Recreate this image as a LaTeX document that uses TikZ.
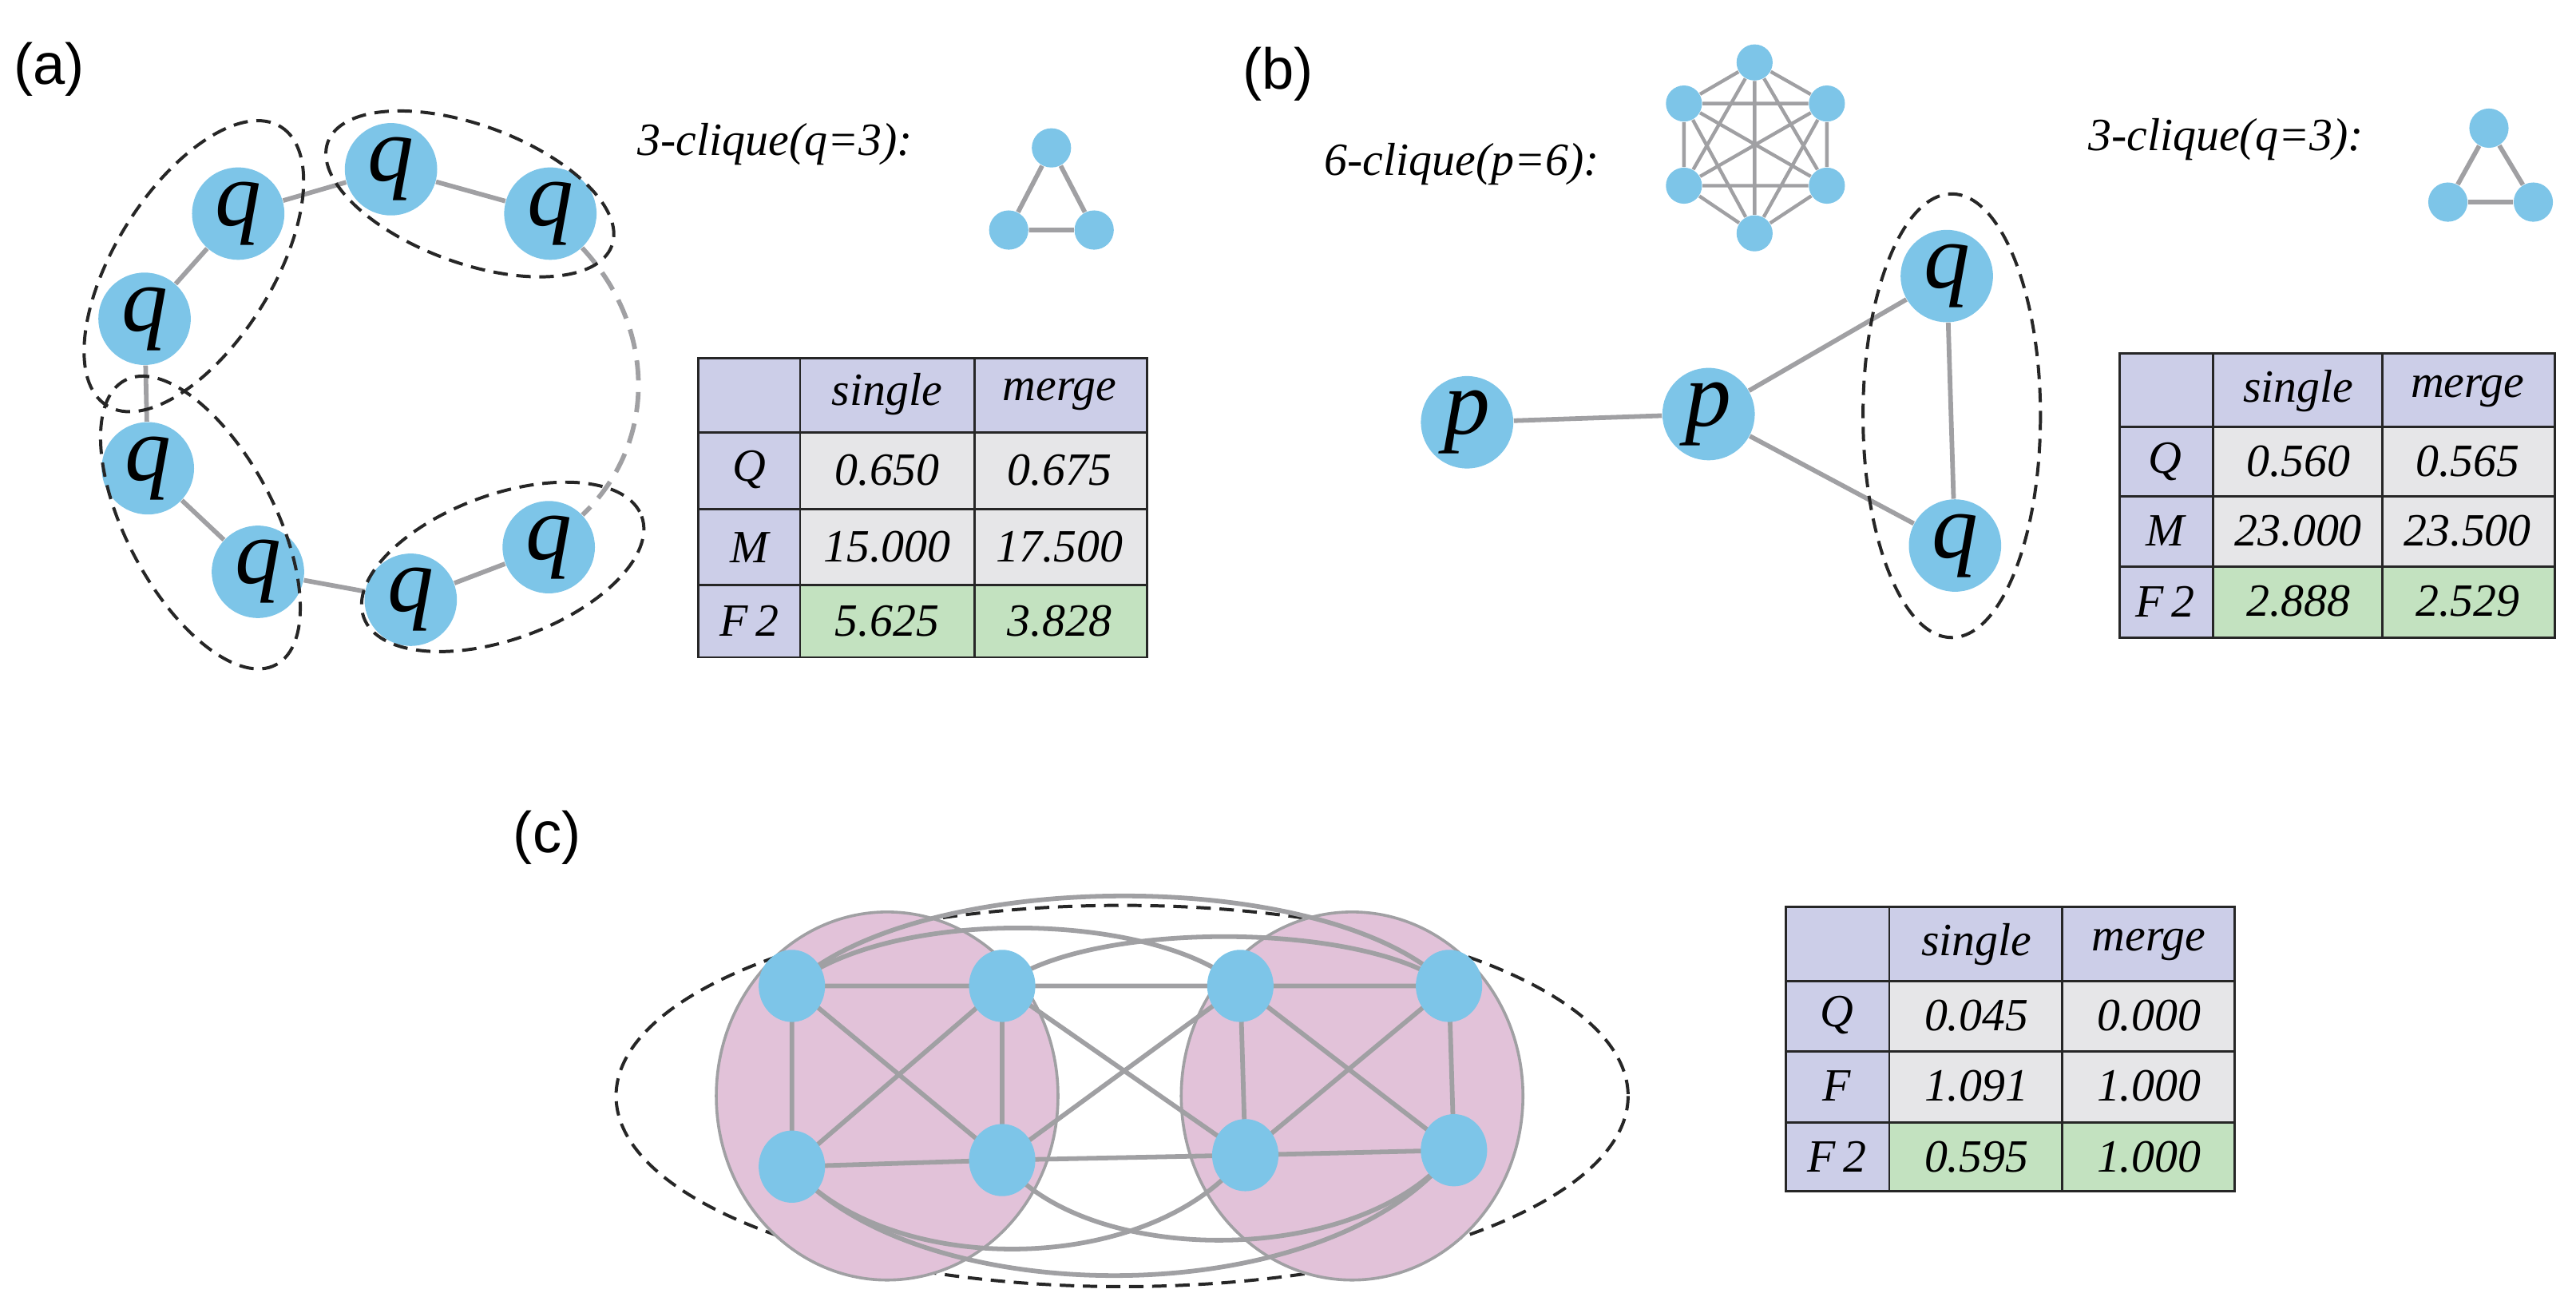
\documentclass[tikz,border=0pt]{standalone}
\usepackage{fontspec}
\usetikzlibrary{shapes.geometric}
\setmainfont{Liberation Serif}
\newfontfamily\lab{Liberation Sans}
\begin{document}
\begin{tikzpicture}[x=0.02cm,y=-0.02cm,
 bn/.style={circle,fill=blueN,minimum size=32pt,inner sep=0,font=\fontsize{32}{32}\selectfont\itshape},
 sn/.style={circle,fill=blueN,minimum size=13.6pt,inner sep=0},
 cn/.style={ellipse,fill=blueN,minimum width=23pt,minimum height=25pt,inner sep=0},
 ed/.style={draw=grayE,line width=1.6pt},
 grp/.style={draw=black!85,line width=1.1pt,dash pattern=on 5pt off 3pt},
 cell/.style={draw=black!85,line width=0.8pt},
 tt/.style={font=\fontsize{16}{16}\selectfont\itshape},
 lt/.style={font=\lab\fontsize{20}{20}\selectfont}]
\definecolor{blueN}{RGB}{125,197,232}
\definecolor{grayE}{RGB}{160,160,163}
\definecolor{hdr}{RGB}{204,206,232}
\definecolor{gcell}{RGB}{230,230,232}
\definecolor{grn}{RGB}{195,226,192}
\definecolor{pink}{RGB}{226,194,217}
\useasboundingbox (0,0) rectangle (1568,794);
\def\drawtable#1#2#3#4#5#6#7#8#9{%
 \def\tA{#1}\def\tB{#2}\def\tC{#3}\def\tD{#4}\def\yA{#5}\def\yB{#6}\def\yC{#7}\def\yD{#8}\def\yE{#9}%
 \fill[hdr] (\tA,\yA) rectangle (\tD,\yB);
 \fill[hdr] (\tA,\yB) rectangle (\tB,\yE);
 \fill[gcell] (\tB,\yB) rectangle (\tD,\yD);
 \fill[grn] (\tB,\yD) rectangle (\tD,\yE);
 \draw[cell] (\tA,\yA) rectangle (\tD,\yE);
 \draw[cell] (\tB,\yA)--(\tB,\yE) (\tC,\yA)--(\tC,\yE) (\tA,\yB)--(\tD,\yB) (\tA,\yC)--(\tD,\yC) (\tA,\yD)--(\tD,\yD);
}
% ===== (a)
\node[lt] (la) at (30,42) {(a)};
\node[bn] (q1) at (88,194) {q};
\node[bn] (q2) at (145,130) {q};
\node[bn] (q3) at (238,103) {q};
\node[bn] (q4) at (335,130) {q};
\node[bn] (q5) at (90,285) {q};
\node[bn] (q6) at (157,348) {q};
\node[bn] (q7) at (250,365) {q};
\node[bn] (q8) at (334,333) {q};
\draw[ed] (q1)--(q2) (q2)--(q3) (q3)--(q4) (q1)--(q5) (q5)--(q6) (q6)--(q7) (q7)--(q8);
\draw[ed,dash pattern=on 7pt off 4pt] (q4) .. controls (400,200) and (400,270) .. (q8);
\draw[grp,rotate around={58:(118,162)}] (118,162) ellipse (100 and 48);
\draw[grp,rotate around={-20:(286,118)}] (286,118) ellipse (92 and 42);
\draw[grp,rotate around={-62:(122,318)}] (122,318) ellipse (98 and 45);
\draw[grp,rotate around={20:(306,345)}] (306,345) ellipse (90 and 44);
\node[tt,anchor=west] (ta) at (382,88) {3-clique(q=3):};
\node[sn] (a1) at (640,90) {};
\node[sn] (a2) at (614,140) {};
\node[sn] (a3) at (666,140) {};
\draw[ed] (a1)--(a2) (a2)--(a3) (a3)--(a1);
\drawtable{425}{487}{593}{698}{218}{263}{310}{356}{400}
\node[tt] (ah1) at (540,240) {single};
\node[tt] (ah2) at (645,240) {merge};
\node[tt] (ar1) at (456,286) {Q};
\node[tt] (ar2) at (456,333) {M};
\node[tt] (ar3) at (456,378) {F\,2};
\node[tt] (av11) at (540,286) {0.650};
\node[tt] (av12) at (645,286) {0.675};
\node[tt] (av21) at (540,333) {15.000};
\node[tt] (av22) at (645,333) {17.500};
\node[tt] (av31) at (540,378) {5.625};
\node[tt] (av32) at (645,378) {3.828};
% ===== (b)
\node[lt] (lb) at (778,45) {(b)};
\node[tt,anchor=west] (tb) at (800,100) {6-clique(p=6):};
\node[sn,minimum size=12.5pt] (h1) at (1068,38) {};
\node[sn,minimum size=12.5pt] (h2) at (1025,63) {};
\node[sn,minimum size=12.5pt] (h3) at (1112,63) {};
\node[sn,minimum size=12.5pt] (h4) at (1025,113) {};
\node[sn,minimum size=12.5pt] (h5) at (1112,113) {};
\node[sn,minimum size=12.5pt] (h6) at (1068,142) {};
\draw[ed,line width=1.2pt] (h1)--(h2) (h1)--(h3) (h1)--(h4) (h1)--(h5) (h1)--(h6)
 (h2)--(h3) (h2)--(h4) (h2)--(h5) (h2)--(h6) (h3)--(h4) (h3)--(h5) (h3)--(h6)
 (h4)--(h5) (h4)--(h6) (h5)--(h6);
\node[bn] (p1) at (893,257) {p};
\node[bn] (p2) at (1040,252) {p};
\node[bn] (r1) at (1185,168) {q};
\node[bn] (r2) at (1190,332) {q};
\draw[ed] (p1)--(p2) (p2)--(r1) (p2)--(r2) (r1)--(r2);
\draw[grp] (1188,253) ellipse (54 and 135);
\node[tt,anchor=west] (tb2) at (1265,85) {3-clique(q=3):};
\node[sn] (b1) at (1515,78) {};
\node[sn] (b2) at (1490,123) {};
\node[sn] (b3) at (1542,123) {};
\draw[ed] (b1)--(b2) (b2)--(b3) (b3)--(b1);
\drawtable{1290}{1347}{1450}{1555}{215}{260}{302}{345}{388}
\node[tt] (bh1) at (1399,238) {single};
\node[tt] (bh2) at (1502,238) {merge};
\node[tt] (br1) at (1318,281) {Q};
\node[tt] (br2) at (1318,323) {M};
\node[tt] (br3) at (1318,366) {F\,2};
\node[tt] (bv11) at (1399,281) {0.560};
\node[tt] (bv12) at (1502,281) {0.565};
\node[tt] (bv21) at (1399,323) {23.000};
\node[tt] (bv22) at (1502,323) {23.500};
\node[tt] (bv31) at (1399,366) {2.888};
\node[tt] (bv32) at (1502,366) {2.529};
% ===== (c)
\node[lt] (lc) at (333,510) {(c)};
\draw[grp] (683,667) ellipse (308 and 116);
\draw[fill=pink,draw=grayE,line width=1pt] (540,667) ellipse (104 and 112);
\draw[fill=pink,draw=grayE,line width=1pt] (823,667) ellipse (104 and 112);
\coordinate (c1) at (482,600); \coordinate (c2) at (610,600);
\coordinate (c3) at (755,600); \coordinate (c4) at (882,600);
\coordinate (c5) at (482,710); \coordinate (c6) at (610,706);
\coordinate (c7) at (758,703); \coordinate (c8) at (885,700);
\draw[ed] (c1)--(c2) (c1)--(c5) (c1)--(c6) (c2)--(c5) (c2)--(c6) (c5)--(c6)
 (c3)--(c4) (c3)--(c7) (c3)--(c8) (c4)--(c7) (c4)--(c8) (c7)--(c8)
 (c2)--(c3) (c6)--(c7) (c2)--(c7) (c6)--(c3);
\draw[ed] (c1) .. controls (560,527) and (810,527) .. (c4);
\draw[ed] (c1) .. controls (540,553) and (700,553) .. (c3);
\draw[ed] (c2) .. controls (660,560) and (830,560) .. (c4);
\draw[ed] (c5) .. controls (560,800) and (810,800) .. (c8);
\draw[ed] (c5) .. controls (540,778) and (700,778) .. (c7);
\draw[ed] (c6) .. controls (660,772) and (830,772) .. (c8);
\foreach \i in {1,...,8} \node[cn] (n\i) at (c\i) {};
\drawtable{1087}{1150}{1255}{1360}{552}{597}{640}{683}{725}
\node[tt] (ch1) at (1203,575) {single};
\node[tt] (ch2) at (1308,575) {merge};
\node[tt] (cr1) at (1118,618) {Q};
\node[tt] (cr2) at (1118,661) {F};
\node[tt] (cr3) at (1118,704) {F\,2};
\node[tt] (cv11) at (1203,618) {0.045};
\node[tt] (cv12) at (1308,618) {0.000};
\node[tt] (cv21) at (1203,661) {1.091};
\node[tt] (cv22) at (1308,661) {1.000};
\node[tt] (cv31) at (1203,704) {0.595};
\node[tt] (cv32) at (1308,704) {1.000};
\end{tikzpicture}
\end{document}
